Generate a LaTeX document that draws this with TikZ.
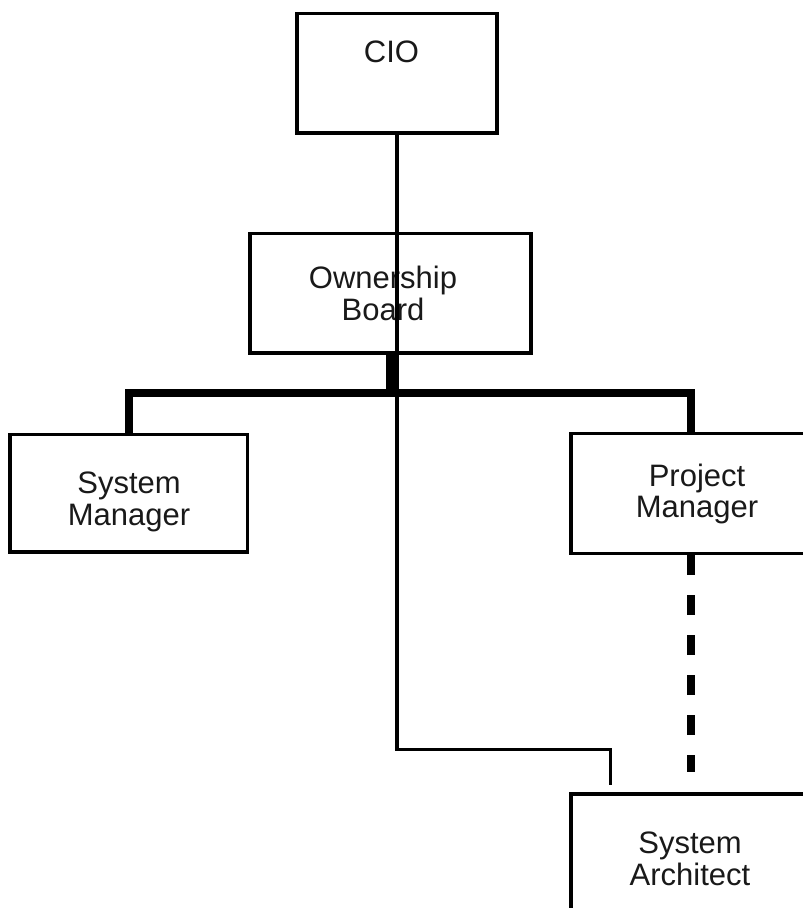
\documentclass[tikz,border=0pt]{standalone}
\usepackage{fontspec}
\setmainfont{Liberation Sans}
\begin{document}
\begin{tikzpicture}[x=1pt, y=-1pt,
  box/.style={draw=black, line width=3.6pt, rectangle, inner sep=0pt, fill=none},
  caption/.style={font=\fontsize{31}{31.5}\selectfont, align=center, inner sep=0pt, text=black!90},
  link/.style={draw=black, line width=3.4pt, line join=miter},
  bus/.style={draw=black, line width=8pt, line join=miter},
  stub/.style={draw=black, line width=9.5pt},
  dotted link/.style={draw=black, line width=8pt, dash pattern=on 20pt off 20pt}]

  \path[use as bounding box] (0,0) rectangle (803,908);
  \clip (0,0) rectangle (803,908);

  % boxes
  \node[box, minimum width=200pt, minimum height=119.5pt] (cio) at (397,73.25) {};
  \node[box, minimum width=281pt, minimum height=119.5pt] (ob)  at (390.5,293.25) {};
  \node[box, minimum width=237.5pt, minimum height=117.5pt] (sm) at (128.75,493.25) {};
  \node[box, minimum width=240pt, minimum height=120pt] (pm) at (691,493.5) {};
  \node[box, minimum width=240pt, minimum height=120pt] (sa) at (691,854) {};

  % labels
  \node[caption] (cio-t) at (391.5,51.5) {CIO};
  \node[caption] (ob-t)  at (383,293.5) {Ownership\\Board};
  \node[caption] (sm-t)  at (129,502) {System\\Manager};
  \node[caption] (pm-t)  at (697,494) {Project\\Manager};
  \node[caption] (sa-t)  at (690,859) {System\\Architect};

  % reporting lines
  \coordinate (busR) at (691,393);
  \draw[stub] (ob.south) -- (ob.south |- busR);
  \draw[bus] (sm.north) |- (busR) -- (pm.north);
  \draw[dotted link, shorten >=20.5pt] (pm.south) -- (sa.north);

  \coordinate (jog) at (610.5,749.5);
  \draw[link, shorten >=7pt] (cio.south) |- (jog) -- (sa.north -| jog);
\end{tikzpicture}
\end{document}
